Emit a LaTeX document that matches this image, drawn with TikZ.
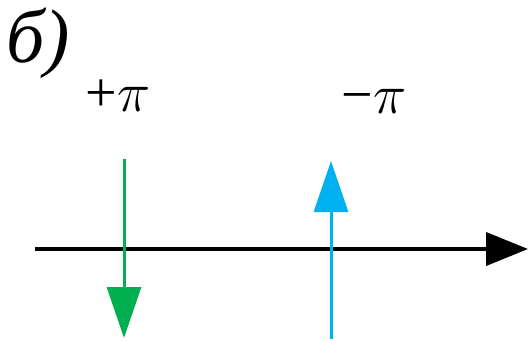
\RequirePackage{fix-cm}
\documentclass[tikz,border=0pt]{standalone}
\usepackage{fontspec}
\setmainfont{Liberation Serif}
\usetikzlibrary{arrows.meta}
\definecolor{vgreen}{HTML}{00B050}
\definecolor{vblue}{HTML}{00B0F0}
\begin{document}
\begin{tikzpicture}[x=1pt,y=-1pt,
  lbl/.style={inner sep=0pt,anchor=base},
  axisline/.style={line width=4pt,-{Triangle[length=42pt,width=33pt]}},
  vec/.style={line width=3pt,-{Triangle[length=51pt,width=34pt]}}]
\useasboundingbox (0,0) rectangle (529,340);
\node[lbl,anchor=base west,font=\fontsize{76}{84}\selectfont\itshape] (title) at (6,62) {б)};
\node[lbl,font=\fontsize{56}{62}\selectfont] (pplus) at (118,111) {+$\pi$};
\node[lbl,font=\fontsize{56}{62}\selectfont] (pminus) at (374,113) {−$\pi$};
\coordinate (a0) at (35,249);
\coordinate (a1) at (528,249);
\coordinate (g0) at (124,159);
\coordinate (g1) at (124,338);
\coordinate (b0) at (331,339);
\coordinate (b1) at (331,161);
\draw[axisline] (a0) -- (a1);
\draw[vec,vgreen] (g0) -- (g1);
\draw[vec,vblue] (b0) -- (b1);
\end{tikzpicture}
\end{document}
